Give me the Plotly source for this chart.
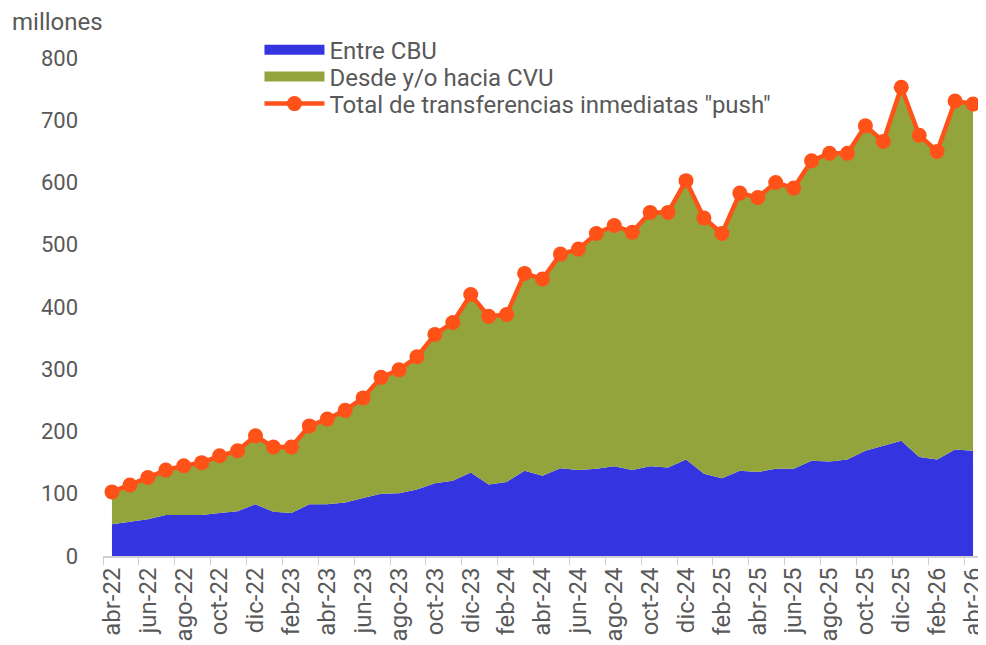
import plotly.graph_objects as go

months = [
    "abr-22", "may-22", "jun-22", "jul-22", "ago-22", "sep-22", "oct-22", "nov-22", "dic-22",
    "ene-23", "feb-23", "mar-23", "abr-23", "may-23", "jun-23", "jul-23", "ago-23", "sep-23",
    "oct-23", "nov-23", "dic-23",
    "ene-24", "feb-24", "mar-24", "abr-24", "may-24", "jun-24", "jul-24", "ago-24", "sep-24",
    "oct-24", "nov-24", "dic-24",
    "ene-25", "feb-25", "mar-25", "abr-25", "may-25", "jun-25", "jul-25", "ago-25", "sep-25",
    "oct-25", "nov-25", "dic-25",
    "ene-26", "feb-26", "mar-26", "abr-26",
]

entre_cbu = [
    51, 55, 59, 66, 66, 66, 69, 72, 83,
    71, 69, 83, 83, 86, 93, 100, 101, 107, 117, 121, 134,
    115, 119, 137, 129, 141, 138, 140, 144, 138, 144, 142, 155,
    132, 125, 137, 135, 140, 140, 153, 152, 155, 169, 177, 185,
    159, 155, 171, 169,
]

total_push = [
    103, 114, 126, 138, 145, 150, 161, 169, 193,
    175, 175, 209, 220, 234, 254, 287, 299, 320, 356, 375, 420,
    385, 388, 454, 445, 485, 493, 518, 531, 520, 552, 552, 603,
    543, 518, 583, 576, 600, 591, 635, 647, 647, 691, 666, 753,
    676, 650, 731, 726,
]

tick_labels = months[::2]

BLUE = "#3434E0"
GREEN = "#93A43D"
ORANGE = "#FF5218"
TEXT = "#595959"
FONT = "Roboto"

fig = go.Figure()
fig.add_trace(go.Scatter(
    x=months, y=entre_cbu, name="Entre CBU", mode="lines",
    line=dict(width=0, color=BLUE), fill="tozeroy", fillcolor=BLUE,
    showlegend=False, legendgroup="cbu",
))
fig.add_trace(go.Scatter(
    x=months, y=total_push, name="Desde y/o hacia CVU", mode="lines",
    line=dict(width=0, color=GREEN), fill="tonexty", fillcolor=GREEN,
    showlegend=False, legendgroup="cvu",
))
fig.add_trace(go.Scatter(
    x=months, y=total_push, name='Total de transferencias inmediatas "push"',
    mode="lines+markers", line=dict(width=4.5, color=ORANGE),
    marker=dict(size=15, color=ORANGE), cliponaxis=False,
    legend="legend3",
))
# legend swatches for the two area series
fig.add_trace(go.Scatter(
    x=[None], y=[None], name="Entre CBU", mode="lines",
    line=dict(width=14, color=BLUE), legend="legend", legendgroup="cbu",
))
fig.add_trace(go.Scatter(
    x=[None], y=[None], name="Desde y/o hacia CVU", mode="lines",
    line=dict(width=14, color=GREEN), legend="legend2", legendgroup="cvu",
))

leg_common = dict(
    x=0.178, xanchor="left", yanchor="middle",
    bgcolor="rgba(0,0,0,0)", font=dict(size=24, color=TEXT, family=FONT),
    itemwidth=60,
)

fig.update_layout(
    width=978, height=637,
    margin=dict(l=95, r=4, t=50, b=89),
    paper_bgcolor="white", plot_bgcolor="white",
    font=dict(family=FONT, size=22, color=TEXT),
    showlegend=True,
    legend=dict(y=1.016, **leg_common),
    legend2=dict(y=0.962, **leg_common),
    legend3=dict(y=0.9076, **leg_common),
    xaxis=dict(
        type="category", range=[-0.5, 48.5], automargin=False,
        tickmode="array", tickvals=tick_labels, ticktext=tick_labels,
        tickson="boundaries", ticks="outside", ticklen=7, tickcolor="#d0d0d0",
        showline=True, linecolor="#d0d0d0", linewidth=2,
        tickangle=-90, showgrid=False, tickfont=dict(size=24, color=TEXT),
    ),
    yaxis=dict(
        range=[0, 800], tickvals=[0, 100, 200, 300, 400, 500, 600, 700, 800],
        showgrid=False, zeroline=False, showline=False, ticks="", automargin=False,
        ticklabelstandoff=24, tickfont=dict(size=22, color=TEXT),
    ),
    annotations=[dict(
        text="millones", xref="paper", yref="paper",
        x=-0.1055, y=1.072, xanchor="left", yanchor="middle",
        showarrow=False, font=dict(size=24, color=TEXT),
    )],
)

fig.write_html("out.html")
